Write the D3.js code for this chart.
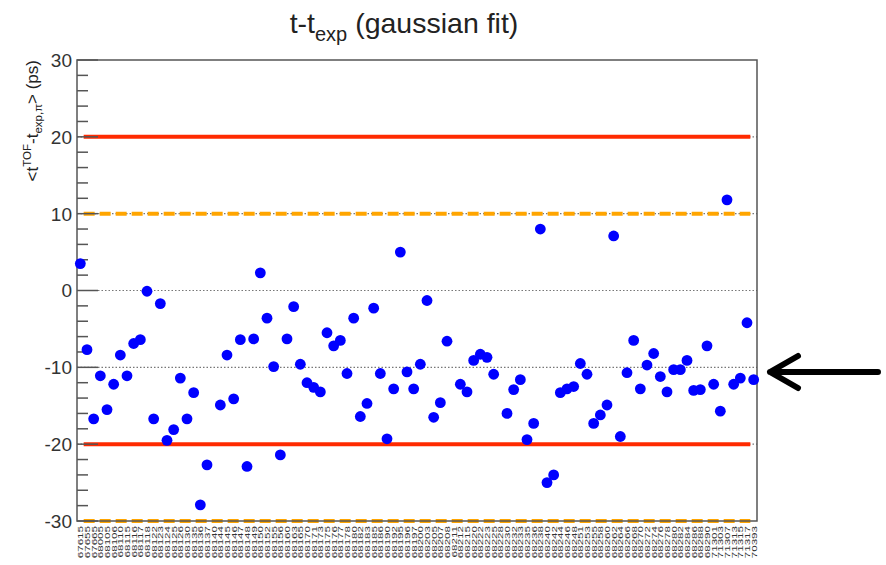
<!DOCTYPE html>
<html>
<head>
<meta charset="utf-8">
<script src="https://cdn.jsdelivr.net/npm/d3@7"></script>
<style>
body { margin: 0; background: #fff; }
svg { display: block; font-family: "Liberation Sans", Arial, sans-serif; }
</style>
</head>
<body>
<div id="chart"></div>
<script>
// run numbers (x categories) - labels too small to read exactly, best guess
var runs = ["67615","67655","67665","68005","68105","68106","68110","68115","68116","68117",
			"68118","68122","68123","68124","68125","68126","68130","68135","68136","68137",
			"68140","68144","68145","68146","68147","68148","68149","68150","68152","68155",
			"68156","68160","68163","68165","68170","68171","68173","68175","68176","68177",
			"68178","68180","68182","68183","68185","68186","68190","68192","68195","68196",
			"68197","68200","68203","68205","68207","68208","68211","68212","68215","68220",
			"68222","68223","68225","68228","68230","68232","68233","68235","68236","68238",
			"68240","68242","68244","68246","68248","68251","68253","68255","68258","68260",
			"68262","68264","68266","68268","68270","68272","68274","68276","68278","68280",
			"68282","68284","68286","68288","68290","71301","71303","71307","71313","71315",
			"71317","70393"];

// mean t - t_exp,pi per run (ps); null = empty bin
var meanDt = [3.5, -7.7, -16.7, -11.1, -15.5, -12.2, -8.4, -11.1, -6.9, -6.4,
			-0.1, -16.7, -1.7, -19.5, -18.1, -11.4, -16.7, -13.3, -27.9, -22.7,
			null, -14.9, -8.4, -14.1, -6.4, -22.9, -6.3, 2.3, -3.6, -9.9,
			-21.4, -6.3, -2.1, -9.6, -12.0, -12.6, -13.2, -5.5, -7.2, -6.5,
			-10.8, -3.6, -16.4, -14.7, -2.3, -10.8, -19.3, -12.8, 5.0, -10.6,
			-12.8, -9.6, -1.3, -16.5, -14.6, -6.6, null, -12.2, -13.2, -9.1,
			-8.3, -8.7, -10.9, null, -16.0, -12.9, -11.6, -19.4, -17.3, 8.0,
			-25.0, -24.0, -13.3, -12.8, -12.5, -9.5, -10.9, -17.3, -16.2, -14.9,
			7.1, -19.0, -10.7, -6.5, -12.8, -9.7, -8.2, -11.2, -13.2, -10.3,
			-10.3, -9.1, -13.0, -12.9, -7.2, -12.2, -15.7, 11.8, -12.2, -11.4,
			-4.2, -11.6];

var yTicks = [-30, -20, -10, 0, 10, 20, 30];
var gridLevels = [-20, -10, 0, 10, 20];
var redLevels = [-20, 20];
var orangeLevels = [-30, 10];

var W = 886, H = 565;
var fLeft = 77, fRight = 757, fTop = 60, fBottom = 521;

var svg = d3.select("#chart").append("svg").attr("width", W).attr("height", H);

var x = d3.scaleBand().domain(runs).range([fLeft, fRight]);
var y = d3.scaleLinear().domain([-30, 30]).range([fBottom, fTop]);

// dotted grid
svg.selectAll(".grid").data(gridLevels).enter().append("line")
	.attr("x1", fLeft).attr("x2", fRight)
	.attr("y1", function(d){ return y(d); }).attr("y2", function(d){ return y(d); })
	.style("stroke", "#777").style("stroke-width", 1.2).style("stroke-dasharray", "1.5,2");

// red limits
var x0 = x(runs[1]), x1 = x(runs[100]) + x.bandwidth();
svg.selectAll(".red").data(redLevels).enter().append("line")
	.attr("x1", x0).attr("x2", x1)
	.attr("y1", function(d){ return y(d); }).attr("y2", function(d){ return y(d); })
	.style("stroke", "#ff2a00").style("stroke-width", 4);

// orange dashed
svg.selectAll(".orange").data(orangeLevels).enter().append("line")
	.attr("x1", x0).attr("x2", x1)
	.attr("y1", function(d){ return y(d); }).attr("y2", function(d){ return y(d); })
	.style("stroke", "#ffa500").style("stroke-width", 4).style("stroke-dasharray", "11,5");

// frame
svg.append("rect").attr("x", fLeft).attr("y", fTop)
	.attr("width", fRight - fLeft).attr("height", fBottom - fTop)
	.style("fill", "none").style("stroke", "#555").style("stroke-width", 1.5);

// y ticks (inside)
var minor = d3.range(-30, 31, 2);
svg.selectAll(".ytick").data(minor).enter().append("line")
	.attr("x1", fLeft)
	.attr("x2", function(d){ return d % 10 == 0 ? fLeft + 21 : fLeft + 11; })
	.attr("y1", function(d){ return y(d); }).attr("y2", function(d){ return y(d); })
	.style("stroke", "#555").style("stroke-width", 1.5);

svg.selectAll(".ylab").data(yTicks).enter().append("text")
	.attr("x", fLeft - 5).attr("y", function(d){ return y(d); })
	.attr("dy", "0.36em").attr("text-anchor", "end")
	.style("font-size", "19px").style("fill", "#333")
	.text(function(d){ return d; });

// points
svg.selectAll(".pt").data(meanDt.map(function(v, i){ return {run: runs[i], v: v}; })
		.filter(function(d){ return d.v !== null; }))
	.enter().append("circle")
	.attr("cx", function(d){ return x(d.run) + x.bandwidth() / 2; })
	.attr("cy", function(d){ return y(d.v); })
	.attr("r", 5.4)
	.style("fill", "#0000ff");

// x labels, vertical
svg.selectAll(".xlab").data(runs).enter().append("text")
	.attr("transform", function(d){
		return "translate(" + (x(d) + x.bandwidth() / 2 + 3) + "," + (fBottom + 5) + ") rotate(-90) scale(1.45,1)";
	})
	.attr("text-anchor", "end")
	.style("font-size", "8px").style("fill", "#333")
	.text(function(d){ return d; });

// title
var title = svg.append("text").attr("x", 404).attr("y", 33)
	.attr("text-anchor", "middle").style("font-size", "28.5px").style("fill", "#222");
title.append("tspan").text("t-t");
title.append("tspan").attr("dy", 8).style("font-size", "20px").text("exp");
title.append("tspan").attr("dy", -8).text(" (gaussian fit)");

// y axis title
var yt = svg.append("text").attr("transform", "translate(38," + fTop + ") rotate(-90)")
	.attr("text-anchor", "end").style("font-size", "17px").style("fill", "#222");
yt.append("tspan").text("<t");
yt.append("tspan").attr("dy", -7).style("font-size", "11.5px").text("TOF");
yt.append("tspan").attr("dy", 7).text("-t");
yt.append("tspan").attr("dy", 4).style("font-size", "11.5px").text("exp,\u03c0");
yt.append("tspan").attr("dy", -4).text("> (ps)");

// arrow
svg.append("path")
	.attr("d", "M878,372 L770,372 M798,356 L770,372 L798,388")
	.style("fill", "none").style("stroke", "#000").style("stroke-width", 6)
	.style("stroke-linecap", "round").style("stroke-linejoin", "round");
</script>
</body>
</html>
